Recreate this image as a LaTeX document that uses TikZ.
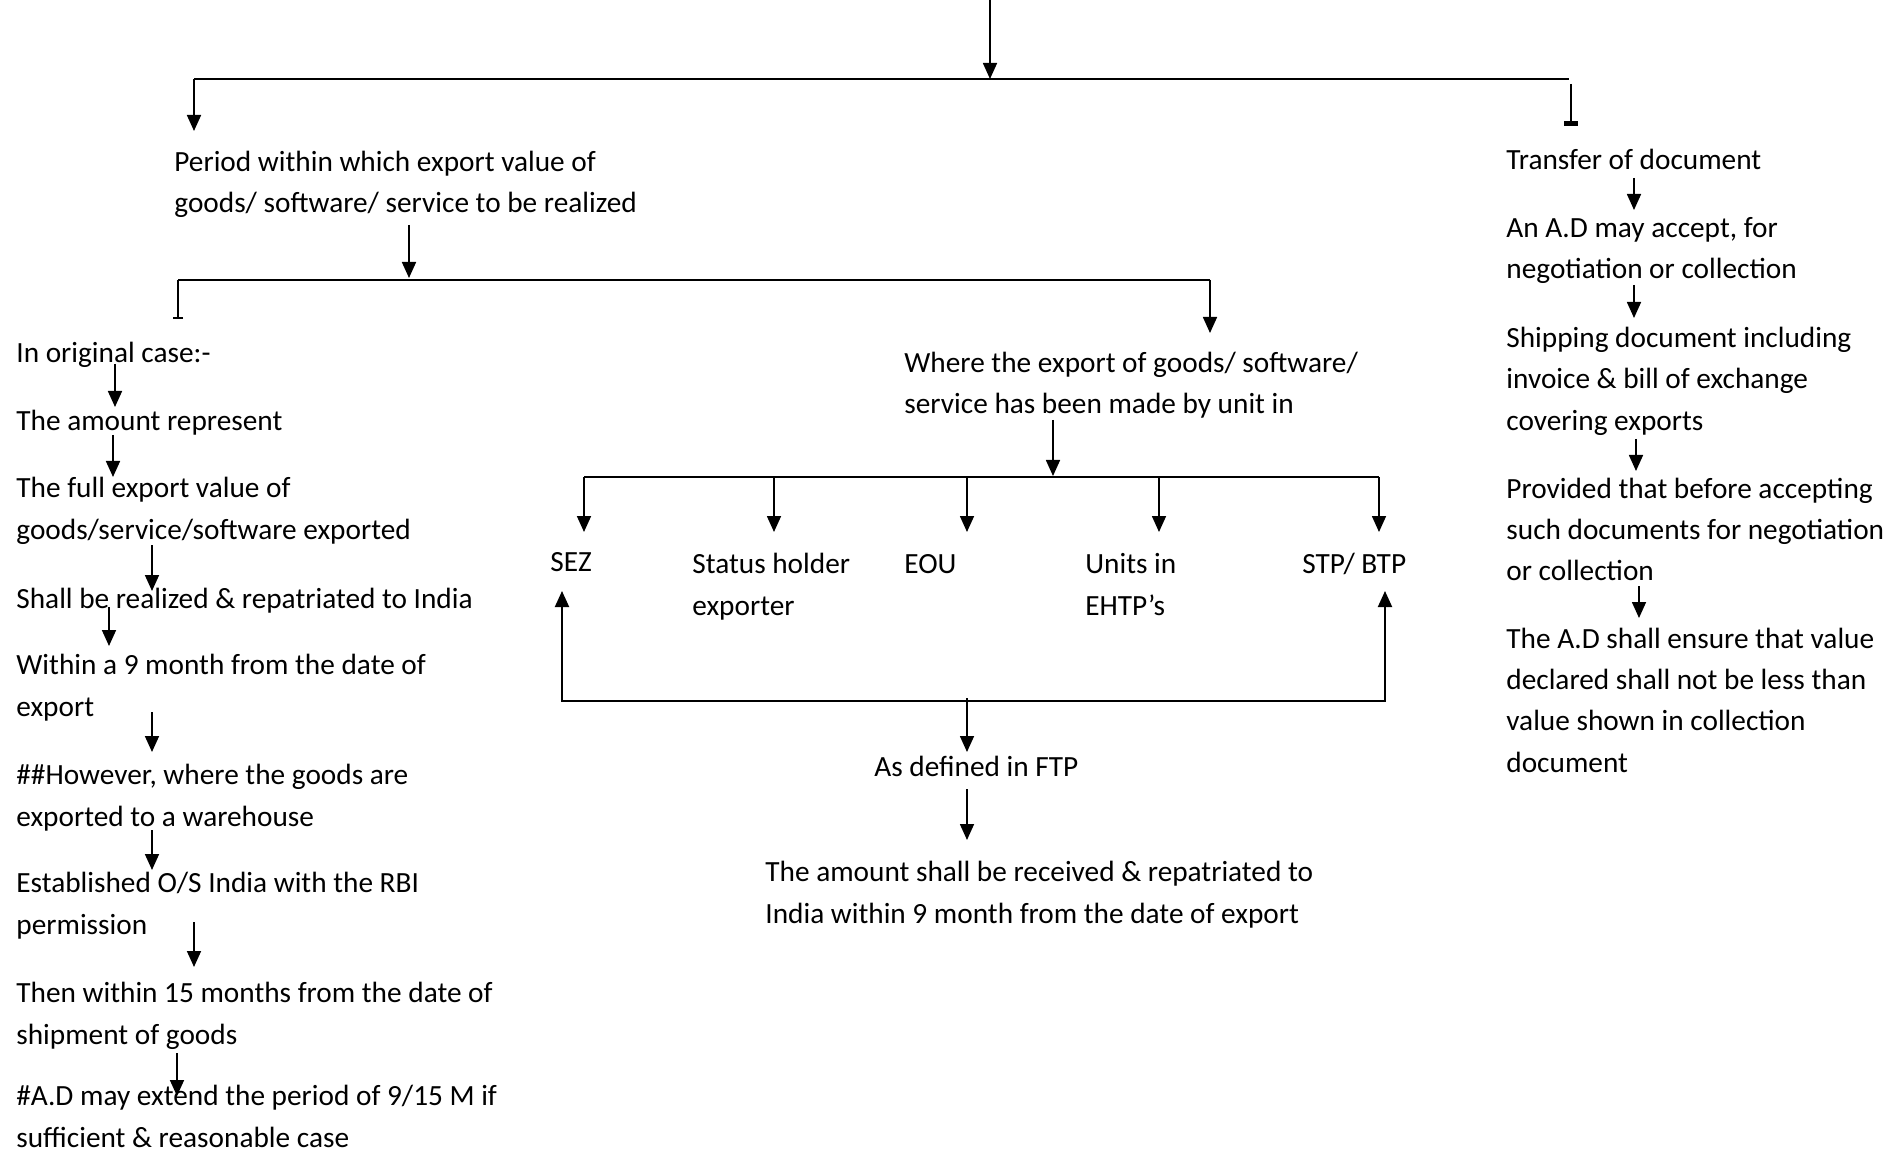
\documentclass[tikz,border=0pt]{standalone}
\usepackage{fontspec}
\setmainfont{Carlito}
\usetikzlibrary{arrows.meta}
\begin{document}
\begin{tikzpicture}[x=0.5pt,y=-0.5pt,
  txt/.style={anchor=base west, align=left, inner sep=0pt,
              font=\fontsize{14.65}{20.6}\selectfont},
  tip/.style={-{Triangle[length=8pt,width=7pt]}},
  arr/.style={tip, line width=0.85pt},
  bus/.style={line width=0.95pt},
  stub/.style={line width=0.85pt}]
\useasboundingbox (0,0) rectangle (1903,1155);

% ---------- text blocks (positioned at the baseline of the last line) ----------
\node[txt] (period) at (174,213) {Period within which export value of\\goods/ software/ service to be realized};

\node[txt] (orig)    at (16,363)  {In original case:-};
\node[txt] (amount)  at (16,430)  {The amount represent};
\node[txt] (fullval) at (16,539)  {The full export value of\\goods/service/software exported};
\node[txt] (realize) at (16,608)  {Shall be realized \& repatriated to India};
\node[txt] (nine)    at (16,716)  {Within a 9 month from the date of\\export};
\node[txt] (however) at (16,826)  {\#\#However, where the goods are\\exported to a warehouse};
\node[txt] (estab)   at (16,934)  {Established O/S India with the RBI\\permission};
\node[txt] (fifteen) at (16,1044) {Then within 15 months from the date of\\shipment of goods};
\node[txt] (extend)  at (16,1147) {\#A.D may extend the period of 9/15 M if\\sufficient \& reasonable case};

\node[txt] (where)   at (904,414) {Where the export of goods/ software/\\service has been made by unit in};
\node[txt] (sez)     at (550,571)  {SEZ};
\node[txt] (status)  at (692,615)  {Status holder\\exporter};
\node[txt] (eou)     at (904,574)  {EOU};
\node[txt] (units)   at (1085,615) {Units in\\EHTP’s};
\node[txt] (stp)     at (1302,574) {STP/ BTP};
\node[txt] (ftp)     at (874,776)  {As defined in FTP};
\node[txt] (recv)    at (765,923)  {The amount shall be received \& repatriated to\\India within 9 month from the date of export};

\node[txt] (transfer) at (1506,170) {Transfer of document};
\node[txt] (accept)   at (1506,279) {An A.D may accept, for\\negotiation or collection};
\node[txt] (shipping) at (1506,430) {Shipping document including\\invoice \& bill of exchange\\covering exports};
\node[txt] (provided) at (1506,581) {Provided that before accepting\\such documents for negotiation\\or collection};
\node[txt] (ensure)   at (1506,772) {The A.D shall ensure that value\\declared shall not be less than\\value shown in collection\\document};

% ---------- top split ----------
\coordinate (top)   at (990,0);
\coordinate (topj)  at (990,79);
\coordinate (busL)  at (194,79);
\coordinate (busR)  at (1569,79);
\coordinate (perT)  at (194,131);
\coordinate (trS)   at (1571,84);
\coordinate (trT)   at (1571,126);
\draw[arr] (top) -- (topj);
\draw[bus] (busL) -- (busR);
\draw[arr] (busL) -- (perT);
\draw[stub,-{Rectangle[length=2.5pt,width=7pt]}] (trS) -- (trT);

% ---------- second split ----------
\coordinate (perS)  at (409,225);
\coordinate (perJ)  at (409,278);
\coordinate (b2L)   at (178,280);
\coordinate (b2R)   at (1210,280);
\coordinate (origT) at (178,319);
\coordinate (whT)   at (1210,333);
\draw[arr] (perS) -- (perJ);
\draw[bus] (b2L) -- (b2R);
\draw[stub,-{Bar[width=5pt]}] (b2L) -- (origT);
\draw[arr] (b2R) -- (whT);

% ---------- left column ----------
\coordinate (l1s) at (115,364);  \coordinate (l1e) at (115,407);
\coordinate (l2s) at (113,435);  \coordinate (l2e) at (113,477);
\coordinate (l3s) at (152,545);  \coordinate (l3e) at (152,591);
\coordinate (l4s) at (109,607);  \coordinate (l4e) at (109,646);
\coordinate (l5s) at (152,712);  \coordinate (l5e) at (152,752);
\coordinate (l6s) at (152,830);  \coordinate (l6e) at (152,870);
\coordinate (l7s) at (194,922);  \coordinate (l7e) at (194,967);
\coordinate (l8s) at (177,1053); \coordinate (l8e) at (177,1096);
\foreach \i in {1,...,8} { \draw[arr] (l\i s) -- (l\i e); }

% ---------- middle: units ----------
\coordinate (whS)  at (1053,420);
\coordinate (whJ)  at (1053,476);
\coordinate (b3L)  at (584,477);
\coordinate (b3R)  at (1379,477);
\draw[arr] (whS) -- (whJ);
\draw[bus] (b3L) -- (b3R);
\foreach \x/\n in {584/u1,774/u2,967/u3,1159/u4,1379/u5} {
  \coordinate (\n s) at (\x,477);
  \coordinate (\n e) at (\x,532);
  \draw[arr] (\n s) -- (\n e);
}

% ---------- middle: loop back and result ----------
\coordinate (sezB) at (562,591);
\coordinate (lpL)  at (562,701);
\coordinate (lpR)  at (1385,701);
\coordinate (stpB) at (1385,591);
\draw[bus,{Triangle[length=8pt,width=7pt]}-{Triangle[length=8pt,width=7pt]}]
  (sezB) -- (lpL) -- (lpR) -- (stpB);
\coordinate (fS) at (967,698);  \coordinate (fE) at (967,752);
\coordinate (rS) at (967,789);  \coordinate (rE) at (967,840);
\draw[arr] (fS) -- (fE);
\draw[arr] (rS) -- (rE);

% ---------- right column ----------
\coordinate (r1s) at (1634,178); \coordinate (r1e) at (1634,210);
\coordinate (r2s) at (1634,285); \coordinate (r2e) at (1634,318);
\coordinate (r3s) at (1636,439); \coordinate (r3e) at (1636,471);
\coordinate (r4s) at (1639,586); \coordinate (r4e) at (1639,618);
\foreach \i in {1,...,4} { \draw[arr] (r\i s) -- (r\i e); }
\end{tikzpicture}
\end{document}
